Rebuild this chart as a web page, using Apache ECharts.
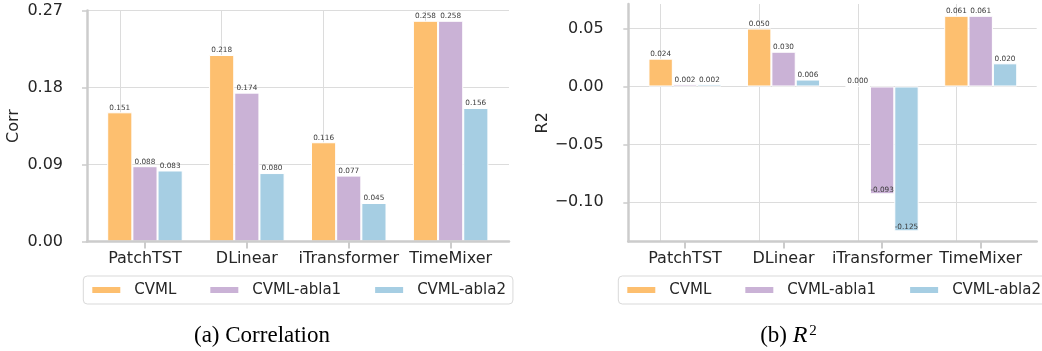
<!DOCTYPE html>
<html>
<head>
<meta charset="utf-8">
<title>CVML ablation: Correlation and R2</title>
<script src="https://cdn.jsdelivr.net/npm/echarts@6.0.0/dist/echarts.min.js"></script>
<style>
  html, body { margin: 0; padding: 0; background: #ffffff; }
  #chart { width: 1042px; height: 351px; }
</style>
</head>
<body>
<div id="chart"></div>
<script>
// Models on the x axis of both panels
const models = ['PatchTST', 'DLinear', 'iTransformer', 'TimeMixer'];
const variants = ['CVML', 'CVML-abla1', 'CVML-abla2'];

// Panel (a): correlation per model
const corrCVML  = [0.151, 0.218, 0.116, 0.258];
const corrAbla1 = [0.088, 0.174, 0.077, 0.258];
const corrAbla2 = [0.083, 0.080, 0.045, 0.156];

// Panel (b): R2 per model
const r2CVML  = [0.024, 0.050, 0.000, 0.061];
const r2Abla1 = [0.002, 0.030, -0.093, 0.061];
const r2Abla2 = [0.002, 0.006, -0.125, 0.020];

// Axis ticks
const corrTicks = [0, 0.09, 0.18, 0.27];
const r2Ticks = [-0.10, -0.05, 0.00, 0.05];
const corrRange = [0, 0.27];
const r2Range = [-0.1338, 0.0712];

const palette = ['#FDBF6F', '#CAB2D6', '#A6CEE3'];
const INK = '#262626';
const SPINE = '#cccccc';
const GRIDLINE = '#dcdcdc';
const FONT = 'DejaVu Sans';

function fmtTick(v) {
  const s = Math.abs(v).toFixed(2);
  return v < -1e-9 ? '\u2212' + s : s;
}

// Negative bars carry their value label just inside the bar end
function barData(values) {
  return values.map(v => v < 0
    ? { value: v, label: { position: 'insideBottom', distance: 1 } }
    : v);
}

function barSeries(name, values, color, axisIdx, withCentreLines) {
  const s = {
    type: 'bar',
    name: name,
    xAxisIndex: axisIdx,
    yAxisIndex: axisIdx,
    data: barData(values),
    barWidth: '24.7%',
    barGap: '0%',
    z: 3,
    itemStyle: { color: color, borderColor: '#ffffff', borderWidth: 1 },
    label: {
      show: true,
      position: 'top',
      distance: 1,
      fontFamily: FONT,
      fontSize: 7.3,
      color: '#3a3a3a',
      formatter: p => p.value.toFixed(3)
    }
  };
  if (withCentreLines) {
    // Vertical grid lines through each model's centre, kept behind the bars
    s.markLine = {
      silent: true,
      z: 1,
      animation: false,
      symbol: ['none', 'none'],
      label: { show: false },
      lineStyle: { color: GRIDLINE, width: 1, type: 'solid' },
      emphasis: { disabled: true },
      data: models.map(m => ({ xAxis: m }))
    };
  }
  return s;
}

// Outer frame of a panel: bottom spine only
function frameX(gridIndex) {
  return {
    gridIndex: gridIndex,
    type: 'value',
    min: 0,
    max: 1,
    z: 5,
    axisLine: { show: true, onZero: false, lineStyle: { color: SPINE, width: 2.5 } },
    axisTick: { show: false },
    axisLabel: { show: false },
    splitLine: { show: false }
  };
}

// Model names under the bars
function categoryX(gridIndex) {
  return {
    gridIndex: gridIndex,
    type: 'category',
    data: models,
    z: 4,
    axisLine: { show: false, onZero: false },
    axisTick: { show: true, alignWithLabel: true, length: 7, lineStyle: { color: SPINE, width: 2 } },
    axisLabel: { fontFamily: FONT, fontSize: 16, color: INK, margin: 9, interval: 0 },
    splitLine: { show: false }
  };
}

function hiddenY(gridIndex, range) {
  return {
    gridIndex: gridIndex,
    type: 'value',
    min: range[0],
    max: range[1],
    show: false,
    splitLine: { show: false }
  };
}

const option = {
  animation: false,
  backgroundColor: '#ffffff',
  textStyle: { fontFamily: FONT },
  color: palette,
  grid: [
    { left: 87, top: 10.5, width: 422, height: 231, outerBoundsMode: 'none' },
    { left: 94, top: 10.5, width: 407.6, height: 231, outerBoundsMode: 'none' },
    { left: 628.3, top: 4, width: 408.4, height: 237.5, outerBoundsMode: 'none' },
    { left: 635.7, top: 4, width: 394.3, height: 237.5, outerBoundsMode: 'none' }
  ],
  xAxis: [frameX(0), categoryX(1), frameX(2), categoryX(3)],
  yAxis: [
    {
      gridIndex: 0,
      type: 'value',
      min: corrRange[0],
      max: corrRange[1],
      interval: corrTicks[1] - corrTicks[0],
      offset: 15,
      name: 'Corr',
      nameLocation: 'middle',
      nameGap: 50,
      nameTextStyle: { fontFamily: FONT, fontSize: 16, color: INK },
      axisLine: { show: true, lineStyle: { color: SPINE, width: 2.5 } },
      axisTick: { show: true, length: 5, lineStyle: { color: SPINE, width: 1.5 } },
      axisLabel: { fontFamily: FONT, fontSize: 16, color: INK, margin: 9, formatter: fmtTick },
      splitLine: { show: true, lineStyle: { color: GRIDLINE, width: 1 } }
    },
    hiddenY(1, corrRange),
    {
      gridIndex: 2,
      type: 'value',
      min: r2Range[0],
      max: r2Range[1],
      offset: 13.6,
      name: 'R2',
      nameLocation: 'middle',
      nameGap: 64,
      nameTextStyle: { fontFamily: FONT, fontSize: 16, color: INK },
      axisLine: { show: true, lineStyle: { color: SPINE, width: 2.5 } },
      axisTick: { show: true, length: 5, customValues: r2Ticks, lineStyle: { color: SPINE, width: 1.5 } },
      axisLabel: { fontFamily: FONT, fontSize: 16, color: INK, margin: 11, customValues: r2Ticks, formatter: fmtTick },
      splitLine: { show: true, lineStyle: { color: GRIDLINE, width: 1 } }
    },
    hiddenY(3, r2Range)
  ],
  legend: [0, 1].map(i => ({
    data: variants,
    left: i === 0 ? 83.3 : 618.3,
    top: 276,
    width: 440,
    orient: 'horizontal',
    icon: 'rect',
    itemWidth: 30,
    itemHeight: 8,
    itemGap: 32,
    padding: [6, 7, 6, 7],
    backgroundColor: '#ffffff',
    borderColor: '#d9d9d9',
    borderWidth: 1,
    borderRadius: 4,
    selectedMode: false,
    textStyle: { fontFamily: FONT, fontSize: 15, color: INK, lineHeight: 16, padding: [0, 0, 0, 8] }
  })),
  graphic: [
    {
      type: 'text',
      x: 262,
      y: 336,
      style: {
        text: '(a) Correlation',
        fontFamily: 'Liberation Serif',
        fontSize: 23,
        fill: '#000000',
        align: 'center',
        verticalAlign: 'middle'
      }
    },
    {
      type: 'text',
      x: 788.5,
      y: 336,
      style: {
        text: '(b) {r|R}{s|2}',
        fontFamily: 'Liberation Serif',
        fontSize: 23,
        fill: '#000000',
        align: 'center',
        verticalAlign: 'middle',
        rich: {
          r: { fontFamily: 'Liberation Serif', fontSize: 24, fontStyle: 'italic', fill: '#000000' },
          s: { fontFamily: 'Liberation Serif', fontSize: 15, fill: '#000000', verticalAlign: 'top', padding: [0, 0, 10, 2] }
        }
      }
    }
  ],
  series: [
    barSeries(variants[0], corrCVML, palette[0], 1, true),
    barSeries(variants[1], corrAbla1, palette[1], 1, false),
    barSeries(variants[2], corrAbla2, palette[2], 1, false),
    barSeries(variants[0], r2CVML, palette[0], 3, true),
    barSeries(variants[1], r2Abla1, palette[1], 3, false),
    barSeries(variants[2], r2Abla2, palette[2], 3, false)
  ]
};

const chart = echarts.init(document.getElementById('chart'), null, { renderer: 'canvas' });
chart.setOption(option);
</script>
</body>
</html>
